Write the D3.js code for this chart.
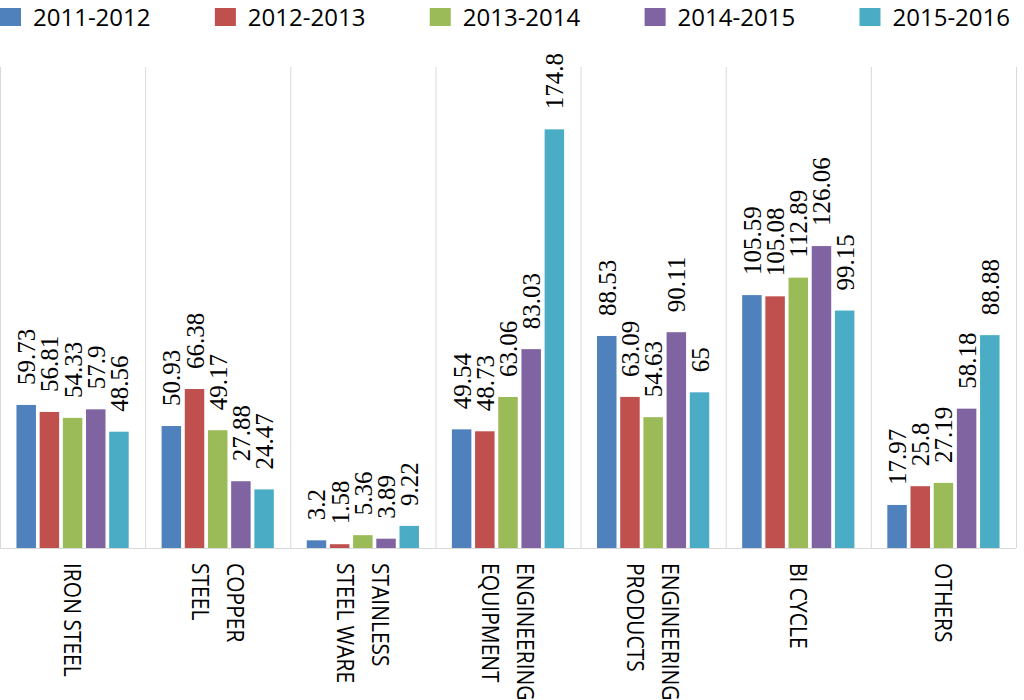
<!DOCTYPE html>
<html>
<head>
<meta charset="utf-8">
<script src="https://cdn.jsdelivr.net/npm/d3@7"></script>
<style>
  body { margin: 0; background: #fff; }
  svg { display: block; }
</style>
</head>
<body>
<div id="chart"></div>
<script>
const categories = [
  ["IRON STEEL"],
  ["COPPER", "STEEL"],
  ["STAINLESS", "STEEL WARE"],
  ["ENGINEERING", "EQUIPMENT"],
  ["ENGINEERING", "PRODUCTS"],
  ["BI CYCLE"],
  ["OTHERS"]
];
const seriesNames = ["2011-2012", "2012-2013", "2013-2014", "2014-2015", "2015-2016"];
const seriesColors = ["#4f81bd", "#c0504d", "#9bbb59", "#8064a2", "#4bacc6"];
const values2011 = [59.73, 50.93, 3.2, 49.54, 88.53, 105.59, 17.97];
const values2012 = [56.81, 66.38, 1.58, 48.73, 63.09, 105.08, 25.8];
const values2013 = [54.33, 49.17, 5.36, 63.06, 54.63, 112.89, 27.19];
const values2014 = [57.9, 27.88, 3.89, 83.03, 90.11, 126.06, 58.18];
const values2015 = [48.56, 24.47, 9.22, 174.8, 65, 99.15, 88.88];
const yMax = 200;

const series = [values2011, values2012, values2013, values2014, values2015];
const catKeys = categories.map(c => c.join(" "));
const rows = catKeys.map((key, i) => ({
  key,
  lines: categories[i],
  values: series.map((s, j) => ({ name: seriesNames[j], value: s[i] }))
}));

const width = 1024;
const height = 700;
const margin = { top: 69, right: 8, bottom: 152, left: 0 };

const svg = d3.select("#chart")
  .append("svg")
  .attr("width", width)
  .attr("height", height);

const x0 = d3.scaleBand()
  .domain(catKeys)
  .range([margin.left, width - margin.right])
  .padding(0);

const x1 = d3.scaleBand()
  .domain(seriesNames)
  .range([0, x0.bandwidth()])
  .paddingInner(0.16)
  .paddingOuter(0.71);

const y = d3.scaleLinear()
  .domain([0, yMax])
  .range([height - margin.bottom, margin.top]);

const color = d3.scaleOrdinal()
  .domain(seriesNames)
  .range(seriesColors);

// vertical separators between categories
const bounds = catKeys.map(k => x0(k)).concat([x0.range()[1]]);
svg.append("g")
  .selectAll("line")
  .data(bounds)
  .enter().append("line")
  .attr("x1", d => d + 0.5)
  .attr("x2", d => d + 0.5)
  .attr("y1", y(yMax) - 2)
  .attr("y2", y(0))
  .attr("stroke", "#d9d9d9")
  .attr("stroke-width", 1);

// baseline
svg.append("line")
  .attr("x1", x0.range()[0])
  .attr("x2", x0.range()[1])
  .attr("y1", y(0) + 0.5)
  .attr("y2", y(0) + 0.5)
  .attr("stroke", "#d9d9d9");

const groups = svg.append("g")
  .selectAll("g")
  .data(rows)
  .enter().append("g")
  .attr("transform", d => `translate(${x0(d.key)},0)`);

groups.selectAll("rect")
  .data(d => d.values)
  .enter().append("rect")
  .attr("x", d => x1(d.name))
  .attr("y", d => y(d.value))
  .attr("width", x1.bandwidth())
  .attr("height", d => y(0) - y(d.value))
  .attr("fill", d => color(d.name));

groups.selectAll("text.value")
  .data(d => d.values)
  .enter().append("text")
  .attr("class", "value")
  .attr("transform", d => `translate(${x1(d.name) + x1.bandwidth() / 2},${y(d.value) - 20}) rotate(-90)`)
  .attr("dy", "0.36em")
  .attr("text-anchor", "start")
  .style("font-family", "'Liberation Serif', 'DejaVu Serif', serif")
  .style("font-size", "25px")
  .attr("fill", "#000")
  .text(d => d.value);

// category labels, rotated, first line on the right
const xAxis = svg.append("g");
rows.forEach(r => {
  const cx = x0(r.key) + x0.bandwidth() / 2;
  const n = r.lines.length;
  const lineGap = 35;
  const t = xAxis.append("text")
    .attr("transform", `translate(${cx + (n - 1) * lineGap / 2},${y(0) + 15}) rotate(90) scale(0.875,1)`)
    .attr("text-anchor", "start")
    .style("font-family", "'Open Sans', sans-serif")
    .style("font-size", "24px")
    .attr("fill", "#000");
  r.lines.forEach((line, i) => {
    t.append("tspan")
      .attr("x", 0)
      .attr("y", i * lineGap)
      .attr("dy", "0.35em")
      .text(line);
  });
});

// legend spread across the top
const legend = svg.append("g").attr("class", "legend");
const box = 21;
const boxGap = 12;
const items = legend.selectAll("g")
  .data(seriesNames)
  .enter().append("g");
items.append("rect")
  .attr("width", box)
  .attr("height", box - 3)
  .attr("y", 8)
  .attr("fill", d => color(d));
items.append("text")
  .attr("x", box + boxGap)
  .attr("y", 18)
  .attr("dy", "0.35em")
  .style("font-family", "'Open Sans', 'Noto Sans', sans-serif")
  .style("font-size", "24px")
  .attr("fill", "#000")
  .text(d => d);

const itemWidths = items.nodes().map(n => box + boxGap + n.querySelector("text").getComputedTextLength());
const legendRight = 1010;
const spacing = (legendRight - d3.sum(itemWidths)) / (seriesNames.length - 1);
let cursor = 0;
items.attr("transform", (d, i) => {
  const tx = cursor;
  cursor += itemWidths[i] + spacing;
  return `translate(${tx},0)`;
});
</script>
</body>
</html>
